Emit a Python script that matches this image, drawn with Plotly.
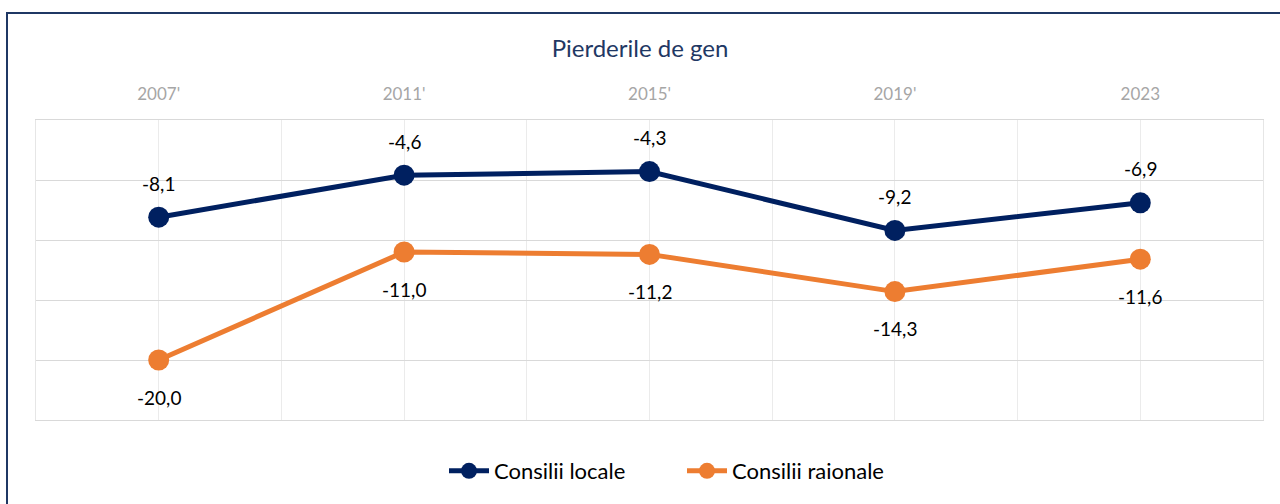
import plotly.graph_objects as go

categories = ["2007'", "2011'", "2015'", "2019'", "2023"]
consilii_locale = [-8.1, -4.6, -4.3, -9.2, -6.9]
consilii_raionale = [-20.0, -11.0, -11.2, -14.3, -11.6]

NAVY = "#002060"
ORANGE = "#ED7D31"
FONT = "Lato"

W, H = 1280, 504
ml, mr, mt, mb = 36, 17, 120, 84
pw, ph = W - ml - mr, H - mt - mb

x = list(range(len(categories)))

fig = go.Figure()
fig.add_trace(go.Scatter(x=x, y=consilii_locale, name="Consilii locale", mode="lines+markers",
                         line=dict(color=NAVY, width=5), marker=dict(size=21, color=NAVY)))
fig.add_trace(go.Scatter(x=x, y=consilii_raionale, name="Consilii raionale", mode="lines+markers",
                         line=dict(color=ORANGE, width=5), marker=dict(size=21, color=ORANGE)))

def fmt(v):
    return f"{v:.1f}".replace(".", ",")

anns = []
for i, v in enumerate(consilii_locale):
    anns.append(dict(x=i, y=v, text=fmt(v), showarrow=False, yshift=34,
                     font=dict(family=FONT, size=19, color="#000000")))
for i, v in enumerate(consilii_raionale):
    anns.append(dict(x=i, y=v, text=fmt(v), showarrow=False, yshift=-37,
                     font=dict(family=FONT, size=19, color="#000000")))

tickvals = [i * 0.5 - 0.5 for i in range(2 * len(categories) + 1)]
ticktext = [categories[int(t)] if float(t).is_integer() else "" for t in tickvals]

def px_to_paper_x(p):
    return (p - ml) / pw

def px_to_paper_y(p):
    return (H - mb - p) / ph

fig.update_layout(
    width=W, height=H,
    margin=dict(l=ml, r=mr, t=mt, b=mb),
    paper_bgcolor="white", plot_bgcolor="white",
    font=dict(family=FONT),
    title=dict(text="Pierderile de gen", x=0.5, xanchor="center", y=1 - 49 / H, yanchor="middle",
               font=dict(family=FONT, size=24, color="#1F3864")),
    xaxis=dict(side="top", range=[-0.5, len(categories) - 0.5], tickmode="array",
               tickvals=tickvals, ticktext=ticktext, showgrid=True, gridcolor="#EBEBEB",
               gridwidth=1, zeroline=False, showline=True, mirror=True, linecolor="#D9D9D9",
               linewidth=1, ticks="", ticklabelstandoff=12,
               tickfont=dict(family=FONT, size=17, color="#A6A6A6"), fixedrange=True),
    yaxis=dict(range=[-25, 0], dtick=5, showticklabels=False, showgrid=True,
               gridcolor="#D9D9D9", gridwidth=1, zeroline=False, showline=True, mirror=True,
               linecolor="#E6E6E6", linewidth=1, ticks="", fixedrange=True),
    legend=dict(orientation="h", x=px_to_paper_x(444), xanchor="left", y=px_to_paper_y(471),
                yanchor="middle", font=dict(family=FONT, size=22, color="#000000"), itemwidth=40,
                entrywidth=183, entrywidthmode="pixels"),
    showlegend=True,
    annotations=anns,
    shapes=[dict(type="rect", xref="paper", yref="paper",
                 x0=px_to_paper_x(7), x1=px_to_paper_x(W + 10),
                 y0=px_to_paper_y(H + 10), y1=px_to_paper_y(13),
                 line=dict(color="#1F3864", width=2), fillcolor="rgba(0,0,0,0)", layer="below")],
)

fig.write_html("out.html", config={"displayModeBar": False, "staticPlot": True},
               post_script="document.body.style.margin='0';document.body.style.overflow='hidden';")
